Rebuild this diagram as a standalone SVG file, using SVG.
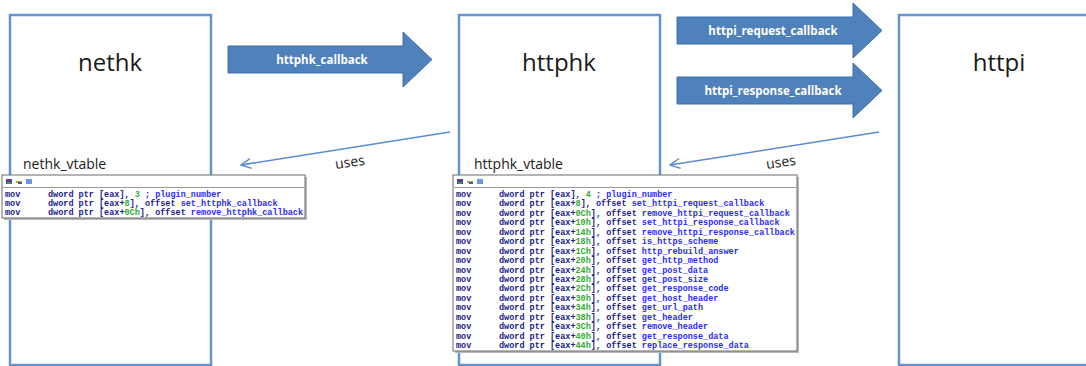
<svg xmlns="http://www.w3.org/2000/svg" width="1086" height="366" viewBox="0 0 1086 366">
<style>
.box{fill:#fff;stroke:#6592d3;stroke-width:2.5}
.title{font-family:"Open Sans","Liberation Sans",sans-serif;font-size:24px;fill:#1a1a1a;text-anchor:middle}
.vt{font-family:"Open Sans","Liberation Sans",sans-serif;font-size:14px;fill:#1a1a1a}
.barrow{fill:#4f81bd;stroke:#3d6ea8;stroke-width:1}
.blabel{font-family:"Open Sans","Liberation Sans",sans-serif;font-size:11.5px;font-weight:bold;fill:#fff;text-anchor:middle}
.uses{font-family:"Open Sans","Liberation Sans",sans-serif;font-size:14px;fill:#222}
.conn{fill:none;stroke:#5b8bd0;stroke-width:1.5}
.code{fill:#fff;stroke:#6a6a6a;stroke-width:1}
.shadow{fill:#b8b8b8}
.asm{font-family:"Liberation Mono",monospace;font-size:8.5px;font-weight:bold;fill:#20208a}
.g{fill:#2fae2f}
.n{fill:#2b2bff}
.hdr{stroke:#9a9a9a;stroke-width:1}
</style>
<defs>
<marker id="open" viewBox="0 0 12 12" refX="11" refY="6" markerWidth="12" markerHeight="12" markerUnits="userSpaceOnUse" orient="auto">
<path d="M1,1 L11,6 L1,11" fill="none" stroke="#5b8bd0" stroke-width="1.5"/>
</marker>
<g id="icons">
<rect x="0" y="0" width="6" height="5" fill="#5a3a9a"/>
<rect x="1" y="3" width="4" height="2" fill="#3aa03a"/>
<rect x="10" y="2" width="6" height="2" fill="#c9a020"/>
<rect x="12" y="3" width="4" height="2" fill="#3060c0"/>
<rect x="20" y="0" width="6" height="5" fill="#6a9ae0"/>
</g>
</defs>

<g id="nethk">
<rect class="box" x="10" y="15" width="201" height="350"/>
<text class="title" x="110" y="71">nethk</text>
<text class="vt" x="23" y="169">nethk_vtable</text>
</g>

<g id="httphk">
<rect class="box" x="459" y="15" width="201" height="350"/>
<text class="title" x="559" y="71">httphk</text>
<text class="vt" x="474" y="169">httphk_vtable</text>
</g>

<g id="httpi">
<rect class="box" x="899" y="15" width="200" height="350"/>
<text class="title" x="999" y="71">httpi</text>
</g>

<g id="connectors">
<g id="arrow-httphk-callback">
<path class="barrow" d="M228,46 H403 V32 L432,59.5 L403,87 V73 H228 Z"/>
<text class="blabel" x="322" y="63.5">httphk_callback</text>
</g>
<g id="arrow-httpi-request">
<path class="barrow" d="M677,17 H853 V3 L882,30.5 L853,58 V44 H677 Z"/>
<text class="blabel" x="773" y="34.5">httpi_request_callback</text>
</g>
<g id="arrow-httpi-response">
<path class="barrow" d="M677,77 H853 V63 L882,90.5 L853,118 V104 H677 Z"/>
<text class="blabel" x="773" y="94.5">httpi_response_callback</text>
</g>
<g id="uses-1">
<line class="conn" x1="450" y1="132" x2="241" y2="165" marker-end="url(#open)"/>
<text class="uses" x="335" y="167" transform="rotate(-8 349 162)">uses</text>
</g>
<g id="uses-2">
<line class="conn" x1="879" y1="132" x2="670" y2="165" marker-end="url(#open)"/>
<text class="uses" x="766" y="167" transform="rotate(-8 780 162)">uses</text>
</g>
</g>

<g id="nethk-vtable-code">
<rect class="shadow" x="4" y="177" width="303" height="43"/>
<rect class="code" x="2" y="175" width="303" height="43"/>
<use href="#icons" x="6" y="179"/>
<line class="hdr" x1="3" y1="187.5" x2="304" y2="187.5"/>
<text class="asm" x="5" y="197">mov</text>
<text class="asm" x="48" y="197">dword ptr [eax], <tspan class="g">3</tspan> <tspan class="n">; plugin_number</tspan></text>
<text class="asm" x="5" y="206.2">mov</text>
<text class="asm" x="48" y="206.2">dword ptr [eax+<tspan class="g">8</tspan>], offset <tspan class="n">set_httphk_callback</tspan></text>
<text class="asm" x="5" y="215.4">mov</text>
<text class="asm" x="48" y="215.4">dword ptr [eax+<tspan class="g">0Ch</tspan>], offset <tspan class="n">remove_httphk_callback</tspan></text>
</g>

<g id="httphk-vtable-code">
<rect class="shadow" x="455" y="177" width="344" height="176"/>
<rect class="code" x="453" y="175" width="344" height="176"/>
<use href="#icons" x="457" y="179"/>
<line class="hdr" x1="454" y1="187.5" x2="796" y2="187.5"/>
<g class="asm">
<text x="456" y="197">mov</text><text x="499" y="197">dword ptr [eax], <tspan class="g">4</tspan> <tspan class="n">; plugin_number</tspan></text>
<text x="456" y="206.44">mov</text><text x="499" y="206.44">dword ptr [eax+<tspan class="g">8</tspan>], offset <tspan class="n">set_httpi_request_callback</tspan></text>
<text x="456" y="215.88">mov</text><text x="499" y="215.88">dword ptr [eax+<tspan class="g">0Ch</tspan>], offset <tspan class="n">remove_httpi_request_callback</tspan></text>
<text x="456" y="225.32">mov</text><text x="499" y="225.32">dword ptr [eax+<tspan class="g">10h</tspan>], offset <tspan class="n">set_httpi_response_callback</tspan></text>
<text x="456" y="234.76">mov</text><text x="499" y="234.76">dword ptr [eax+<tspan class="g">14h</tspan>], offset <tspan class="n">remove_httpi_response_callback</tspan></text>
<text x="456" y="244.2">mov</text><text x="499" y="244.2">dword ptr [eax+<tspan class="g">18h</tspan>], offset <tspan class="n">is_https_scheme</tspan></text>
<text x="456" y="253.64">mov</text><text x="499" y="253.64">dword ptr [eax+<tspan class="g">1Ch</tspan>], offset <tspan class="n">http_rebuild_answer</tspan></text>
<text x="456" y="263.08">mov</text><text x="499" y="263.08">dword ptr [eax+<tspan class="g">20h</tspan>], offset <tspan class="n">get_http_method</tspan></text>
<text x="456" y="272.52">mov</text><text x="499" y="272.52">dword ptr [eax+<tspan class="g">24h</tspan>], offset <tspan class="n">get_post_data</tspan></text>
<text x="456" y="281.96">mov</text><text x="499" y="281.96">dword ptr [eax+<tspan class="g">28h</tspan>], offset <tspan class="n">get_post_size</tspan></text>
<text x="456" y="291.4">mov</text><text x="499" y="291.4">dword ptr [eax+<tspan class="g">2Ch</tspan>], offset <tspan class="n">get_response_code</tspan></text>
<text x="456" y="300.84">mov</text><text x="499" y="300.84">dword ptr [eax+<tspan class="g">30h</tspan>], offset <tspan class="n">get_host_header</tspan></text>
<text x="456" y="310.28">mov</text><text x="499" y="310.28">dword ptr [eax+<tspan class="g">34h</tspan>], offset <tspan class="n">get_url_path</tspan></text>
<text x="456" y="319.72">mov</text><text x="499" y="319.72">dword ptr [eax+<tspan class="g">38h</tspan>], offset <tspan class="n">get_header</tspan></text>
<text x="456" y="329.16">mov</text><text x="499" y="329.16">dword ptr [eax+<tspan class="g">3Ch</tspan>], offset <tspan class="n">remove_header</tspan></text>
<text x="456" y="338.6">mov</text><text x="499" y="338.6">dword ptr [eax+<tspan class="g">40h</tspan>], offset <tspan class="n">get_response_data</tspan></text>
<text x="456" y="348.04">mov</text><text x="499" y="348.04">dword ptr [eax+<tspan class="g">44h</tspan>], offset <tspan class="n">replace_response_data</tspan></text>
</g>
</g>
</svg>
